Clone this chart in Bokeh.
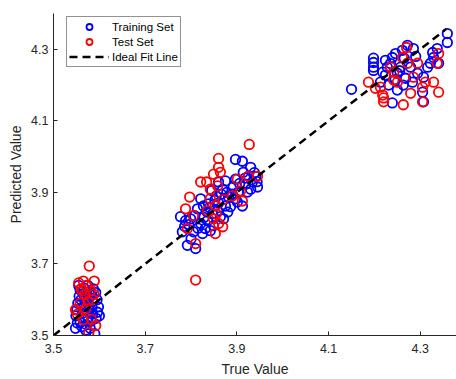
from bokeh.plotting import figure
from bokeh.models import FixedTicker, Legend, LegendItem, Range1d
from bokeh.embed import file_html
from bokeh.resources import INLINE

# ---- data ----
train_true = [
    3.548, 3.552, 3.549, 3.551, 3.553, 3.556, 3.558, 3.555, 3.562, 3.565, 3.563, 3.566, 3.568, 3.565, 3.567,
    3.572, 3.575, 3.574, 3.577, 3.576, 3.578, 3.575, 3.582, 3.585, 3.584, 3.586, 3.583, 3.587, 3.590, 3.593,
    3.596, 3.598, 3.600, 3.595, 3.592, 3.558, 3.570, 3.580, 3.560, 3.570,
    3.897, 3.912, 3.930, 3.941, 3.945, 3.934, 3.914, 3.897, 3.777, 3.788, 3.781, 3.792, 3.810, 3.825, 3.821,
    3.831, 3.805, 3.814, 3.827, 3.821, 3.838, 3.847, 3.836, 3.875, 3.886, 3.897, 3.882, 3.869, 3.860, 3.875,
    3.919, 3.923, 3.930, 3.903, 3.890, 3.849, 3.842, 3.799, 3.864, 3.858, 3.871, 3.901, 3.912, 3.944, 3.925,
    3.855, 3.845, 3.808, 3.795, 3.835, 3.880, 3.860, 3.815, 3.828, 3.840, 3.852, 3.866, 3.878, 3.892, 3.906,
    3.918, 3.938, 3.786, 3.800,
    4.359, 4.359, 4.337, 4.327, 4.329, 4.272, 4.285, 4.261, 4.246, 4.239, 4.198, 4.198, 4.198, 4.198, 4.224,
    4.228, 4.218, 4.224, 4.250, 4.257, 4.279, 4.268, 4.283, 4.294, 4.307, 4.305, 4.307, 4.239, 4.250, 4.263,
    4.231, 4.213, 4.316, 4.322, 4.340, 4.150, 4.245, 4.265, 4.255, 4.290, 4.235,
]
train_pred = [
    3.520, 3.535, 3.555, 3.572, 3.590, 3.610, 3.628, 3.640, 3.525, 3.545, 3.562, 3.580, 3.598, 3.615, 3.632,
    3.530, 3.550, 3.568, 3.585, 3.605, 3.622, 3.640, 3.540, 3.560, 3.578, 3.595, 3.612, 3.630, 3.505, 3.548,
    3.565, 3.580, 3.555, 3.600, 3.620, 3.538, 3.515, 3.520, 3.600, 3.610,
    3.992, 3.987, 3.970, 3.945, 3.915, 3.929, 3.956, 3.937, 3.832, 3.821, 3.790, 3.752, 3.743, 3.785, 3.813,
    3.799, 3.790, 3.854, 3.862, 3.882, 3.868, 3.840, 3.821, 3.862, 3.860, 3.882, 3.887, 3.909, 3.929, 3.932,
    3.923, 3.901, 3.909, 3.901, 3.895, 3.807, 3.793, 3.826, 3.832, 3.849, 3.826, 3.873, 3.862, 3.930, 3.945,
    3.890, 3.905, 3.835, 3.810, 3.845, 3.845, 3.870, 3.800, 3.830, 3.858, 3.878, 3.895, 3.900, 3.915, 3.925,
    3.940, 3.955, 3.805, 3.770,
    4.344, 4.319, 4.302, 4.291, 4.277, 4.311, 4.302, 4.297, 4.288, 4.277, 4.263, 4.250, 4.241, 4.275, 4.269,
    4.250, 4.236, 4.228, 4.233, 4.250, 4.250, 4.219, 4.208, 4.233, 4.222, 4.180, 4.153, 4.150, 4.186, 4.200,
    4.200, 4.208, 4.250, 4.261, 4.261, 4.188, 4.215, 4.275, 4.240, 4.280, 4.260,
]
test_true = [
    3.578, 3.555, 3.565, 3.589, 3.548, 3.577, 3.592, 3.565, 3.560, 3.572, 3.580, 3.568, 3.585, 3.558, 3.575,
    3.552, 3.570, 3.583, 3.563, 3.588,
    3.927, 3.860, 3.860, 3.849, 3.864, 3.821, 3.834, 3.797, 3.788, 3.805, 3.792, 3.810, 3.810, 3.842, 3.853,
    3.849, 3.860, 3.853, 3.869, 3.890, 3.912, 3.908, 3.901, 3.925, 3.945, 3.842, 3.836, 3.858, 3.870, 3.855,
    4.187, 4.220, 4.220, 4.218, 4.263, 4.279, 4.250, 4.242, 4.242, 4.213, 4.261, 4.305, 4.311, 4.329, 4.340,
    4.340, 4.337, 4.285, 4.272, 4.305, 4.294, 4.235, 4.270, 4.202,
]
test_pred = [
    3.694, 3.647, 3.652, 3.652, 3.572, 3.508, 3.528, 3.544, 3.630, 3.640, 3.625, 3.615, 3.600, 3.590, 3.595,
    3.560, 3.575, 3.545, 3.625, 3.615,
    4.034, 3.995, 3.970, 3.951, 3.956, 3.929, 3.929, 3.887, 3.854, 3.835, 3.799, 3.757, 3.655, 3.882, 3.862,
    3.826, 3.813, 3.785, 3.804, 3.890, 3.876, 3.904, 3.937, 3.945, 3.945, 3.909, 3.849, 3.918, 3.880, 3.840,
    4.208, 4.164, 4.153, 4.172, 4.145, 4.177, 4.208, 4.214, 4.236, 4.194, 4.277, 4.194, 4.208, 4.208, 4.180,
    4.288, 4.261, 4.222, 4.261, 4.153, 4.261, 4.250, 4.305, 4.191,
]
ideal_x = [3.5, 4.357]
tick_values = [3.5, 3.7, 3.9, 4.1, 4.3]
labels = ["Training Set", "Test Set", "Ideal Fit Line"]

FONT = "Liberation Sans"
GRAY = "#262626"

p = figure(width=456, height=379, output_backend="svg", toolbar_location=None,
           x_range=Range1d(3.5, 4.379), y_range=Range1d(3.5, 4.4),
           min_border_left=53, min_border_right=0, min_border_top=13, min_border_bottom=41)
p.outline_line_color = None
p.grid.visible = False

r_train = p.scatter(train_true, train_pred, size=9.5, marker="circle", fill_color=None,
                    line_color="#0000FF", line_width=1.8)
r_test = p.scatter(test_true, test_pred, size=9.5, marker="circle", fill_color=None,
                   line_color="#FF0000", line_width=1.8)
r_line = p.line(ideal_x, ideal_x, line_color="black", line_width=2.5, line_dash="8 5")

for ax in (p.xaxis[0], p.yaxis[0]):
    ax.ticker = FixedTicker(ticks=tick_values)
    ax.axis_line_color = GRAY
    ax.major_tick_line_color = GRAY
    ax.major_tick_in = 4
    ax.major_tick_out = 0
    ax.minor_tick_line_color = None
    ax.major_label_text_font = FONT
    ax.major_label_text_font_size = "12.5px"
    ax.major_label_text_color = GRAY
    ax.axis_label_text_font = FONT
    ax.axis_label_text_font_size = "14px"
    ax.axis_label_text_font_style = "normal"
    ax.axis_label_text_color = GRAY

p.xaxis.axis_label = "True Value"
p.yaxis.axis_label = "Predicted Value"
p.xaxis.major_label_standoff = 8
p.xaxis.axis_label_standoff = 5
p.yaxis.major_label_standoff = 5
p.yaxis.axis_label_standoff = 4

legend = Legend(items=[LegendItem(label=labels[0], renderers=[r_train]),
                       LegendItem(label=labels[1], renderers=[r_test]),
                       LegendItem(label=labels[2], renderers=[r_line])],
                location=(13, 268))
legend.label_text_font = FONT
legend.label_text_font_size = "11.5px"
legend.label_text_color = "black"
legend.glyph_width = 40
legend.glyph_height = 15
legend.label_height = 15
legend.spacing = 0
legend.padding = 2
legend.margin = 0
legend.label_standoff = 3
legend.border_line_color = GRAY
legend.border_line_width = 0.8
legend.background_fill_color = "white"
legend.background_fill_alpha = 1
p.add_layout(legend, "center")

open("out.html", "w").write(file_html(p, INLINE))
